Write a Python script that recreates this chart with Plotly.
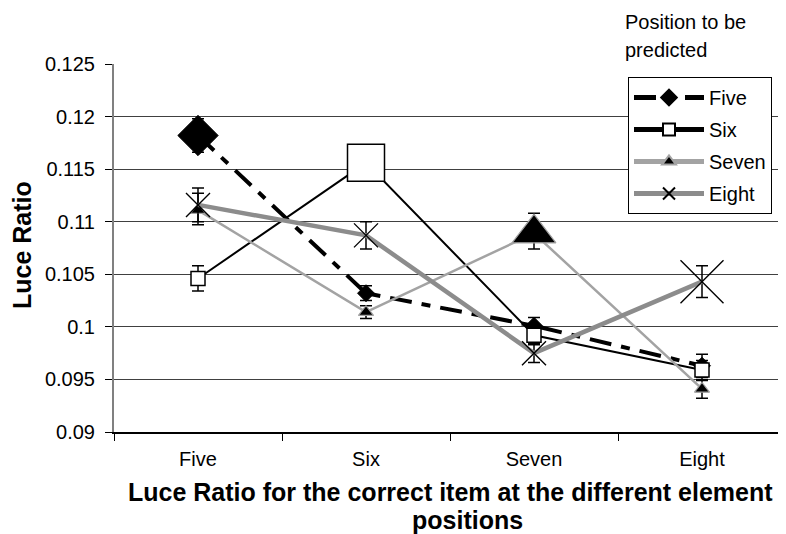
import plotly.graph_objects as go

categories = ["Five", "Six", "Seven", "Eight"]
series_names = ["Five", "Six", "Seven", "Eight"]
five_vals = [0.1182, 0.1032, 0.1001, 0.0963]
six_vals = [0.1046, 0.1156, 0.0992, 0.0959]
seven_vals = [0.1111, 0.1014, 0.1089, 0.0941]
eight_vals = [0.1116, 0.1087, 0.0975, 0.1043]
five_err = [0.0016, 0.0007, 0.0008, 0.0011]
six_err = [0.0012, 0.0008, 0.0009, 0.0009]
seven_err_plus = [0.0016, 0.0006, 0.0019, 0.0008]
seven_err_minus = [0.0014, 0.0006, 0.0015, 0.0009]
eight_err = [0.0016, 0.0013, 0.0009, 0.0015]
y_ticks = [0.09, 0.095, 0.1, 0.105, 0.11, 0.115, 0.12, 0.125]
y_tick_text = ["0.09", "0.095", "0.1", "0.105", "0.11", "0.115", "0.12", "0.125"]

values = [five_vals, six_vals, seven_vals, eight_vals]
err_plus = [five_err, six_err, seven_err_plus, eight_err]
err_minus = [five_err, six_err, seven_err_minus, eight_err]

styles = [
    dict(line=dict(color="black", width=4, dash="22px,10px,9px,10px"),
         symbol="diamond", fill="black", lc="black", lw=1, small=13, big=31),
    dict(line=dict(color="black", width=2),
         symbol="square", fill="white", lc="black", lw=1.5, small=14, big=37),
    dict(line=dict(color="#a3a3a3", width=2.5),
         symbol="triangle-up", fill="black", lc="#a3a3a3", lw=1.2, small=13, big=38),
    dict(line=dict(color="#8c8c8c", width=4.5),
         symbol="x-thin", fill="black", lc="black", lw=1.4, small=24, big=43),
]

fig = go.Figure()
for name, vals, ep, em, st in zip(series_names, values, err_plus, err_minus, styles):
    sizes = [st["big"] if c == name else st["small"] for c in categories]
    fig.add_trace(go.Scatter(
        x=categories, y=vals, name=name, mode="lines+markers", legendgroup=name,
        line=st["line"],
        marker=dict(symbol=st["symbol"], size=sizes, color=st["fill"], opacity=1,
                    line=dict(color=st["lc"], width=st["lw"])),
        error_y=dict(type="data", array=ep, arrayminus=em, symmetric=False,
                     visible=True, color="black", thickness=1.5, width=6),
    ))

# page coordinates -> paper coordinates of the plot area (left 114, right 786, top 64, bottom 432)
def px(x):
    return (x - 114) / 672

def py(y):
    return 1 - (y - 64) / 368

fig.update_layout(
    width=778, height=526,
    margin=dict(l=106, r=0, t=56, b=102),
    paper_bgcolor="white", plot_bgcolor="white",
    font=dict(family="Liberation Sans, Arial", size=20, color="black"),
    showlegend=True,
    legend=dict(x=px(628), y=py(77), xanchor="left", yanchor="top",
                bgcolor="white", bordercolor="black", borderwidth=1,
                font=dict(size=20), itemwidth=70, itemsizing="constant",
                tracegroupgap=3),
    annotations=[
        dict(text="Position to be", x=px(623), y=py(22), xref="paper", yref="paper",
             showarrow=False, xanchor="left", yanchor="middle", font=dict(size=20)),
        dict(text="predicted", x=px(623), y=py(50), xref="paper", yref="paper",
             showarrow=False, xanchor="left", yanchor="middle", font=dict(size=20)),
        dict(text="<b>Luce Ratio for the correct item at the different element</b>",
             x=px(450), y=py(492), xref="paper", yref="paper", showarrow=False,
             xanchor="center", yanchor="middle", font=dict(size=25)),
        dict(text="<b>positions</b>",
             x=px(467), y=py(520), xref="paper", yref="paper", showarrow=False,
             xanchor="center", yanchor="middle", font=dict(size=25)),
        dict(text="<b>Luce Ratio</b>", textangle=-90,
             x=px(22), y=py(245), xref="paper", yref="paper", showarrow=False,
             xanchor="center", yanchor="middle", font=dict(size=25)),
    ],
)

fig.update_xaxes(
    type="category", range=[-0.5, 3.5], showline=True, linecolor="black", linewidth=1.5,
    ticks="outside", tickson="boundaries", ticklen=7, tickcolor="black",
    showgrid=False, tickfont=dict(size=20), ticklabelstandoff=8,
)
fig.update_yaxes(
    range=[0.09, 0.125], tickvals=y_ticks, ticktext=y_tick_text,
    showline=True, linecolor="#808080", linewidth=2,
    ticks="outside", ticklen=7, tickcolor="black",
    showgrid=True, gridcolor="#404040", gridwidth=1, zeroline=False,
    tickfont=dict(size=20), ticklabelstandoff=6,
)

fig.write_html("out.html")
